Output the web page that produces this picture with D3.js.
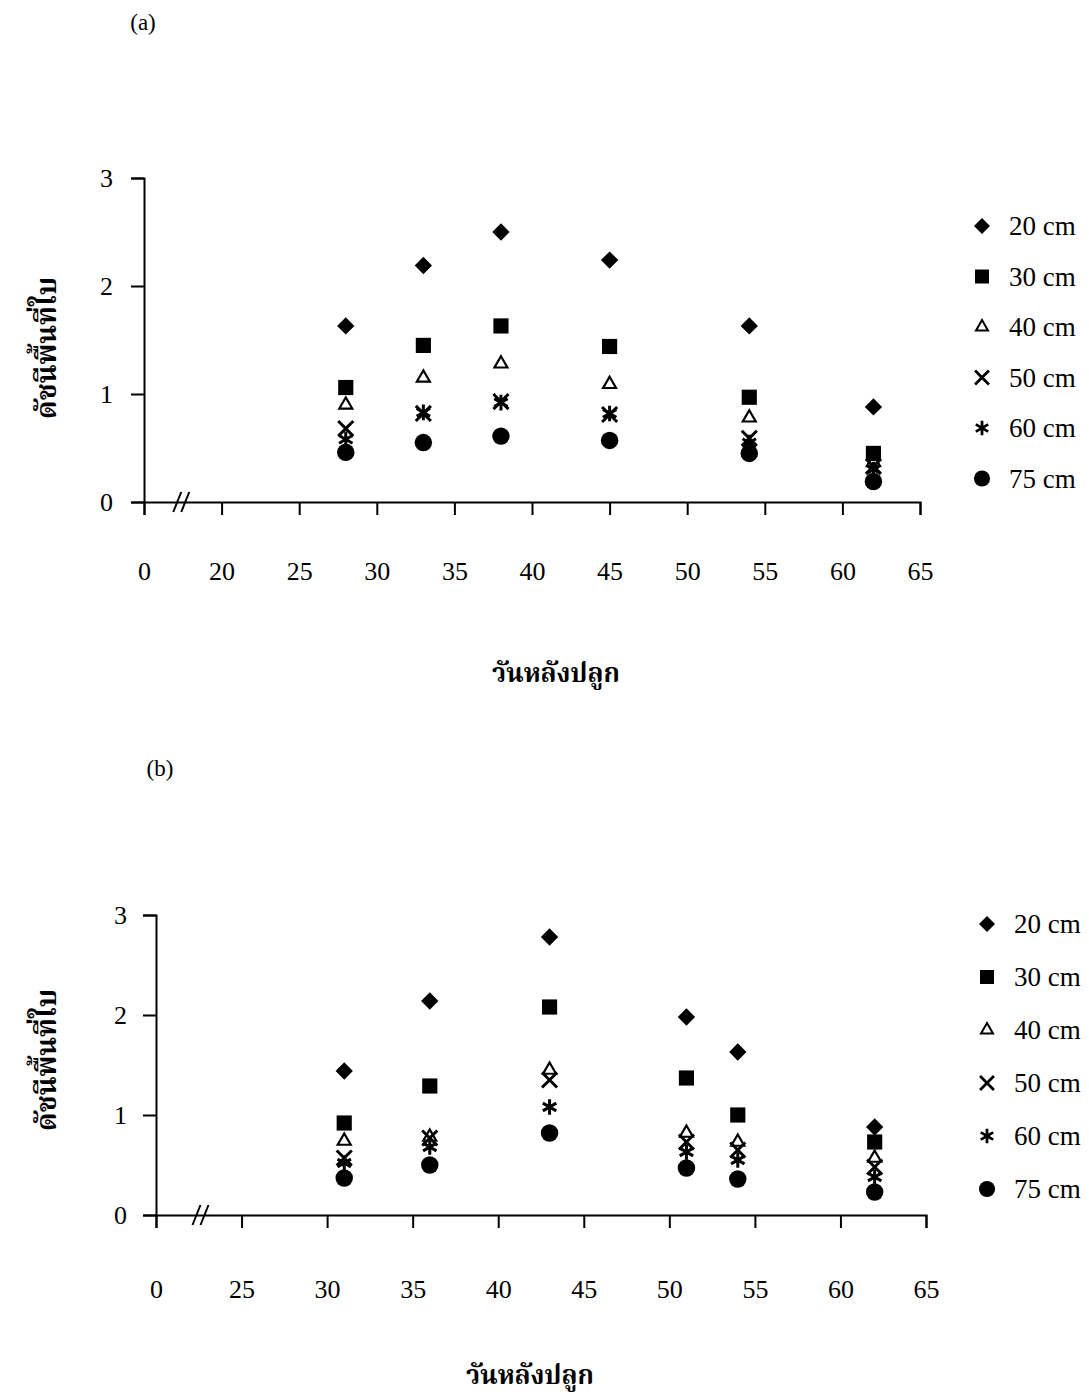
<!DOCTYPE html>
<html lang="th">
<head>
<meta charset="UTF-8">
<title>ดัชนีพื้นที่ใบ</title>
<script src="https://d3js.org/d3.v7.min.js"></script>
<style>
  body { margin: 0; background: #fff; }
  svg text { font-family: "Liberation Serif", "Times New Roman", serif; fill: #000; }
  .thai { font-family: "Noto Serif Thai", "Noto Sans Thai", "Loma", "Garuda", "Norasi", "Liberation Serif", serif; font-weight: bold; }
</style>
</head>
<body>
<script>
// ---- data ----
var seriesNames = ["20 cm", "30 cm", "40 cm", "50 cm", "60 cm", "75 cm"];
var yTicks = [0, 1, 2, 3];

// panel (a)
var daysA = [28, 33, 38, 45, 54, 62];
var a20 = [1.63, 2.19, 2.50, 2.24, 1.63, 0.88];
var a30 = [1.06, 1.45, 1.63, 1.44, 0.97, 0.45];
var a40 = [0.90, 1.15, 1.28, 1.09, 0.78, 0.37];
var a50 = [0.68, 0.82, 0.93, 0.81, 0.59, 0.33];
var a60 = [0.58, 0.83, 0.92, 0.82, 0.55, 0.30];
var a75 = [0.46, 0.55, 0.61, 0.57, 0.45, 0.19];
var xTicksA = [15, 20, 25, 30, 35, 40, 45, 50, 55, 60, 65];
var xLabelsA = ["0", "20", "25", "30", "35", "40", "45", "50", "55", "60", "65"];

// panel (b)
var daysB = [31, 36, 43, 51, 54, 62];
var b20 = [1.44, 2.14, 2.78, 1.98, 1.63, 0.88];
var b30 = [0.92, 1.29, 2.08, 1.37, 1.00, 0.73];
var b40 = [0.74, 0.78, 1.45, 0.82, 0.73, 0.57];
var b50 = [0.57, 0.77, 1.35, 0.73, 0.65, 0.48];
var b60 = [0.52, 0.68, 1.08, 0.63, 0.55, 0.38];
var b75 = [0.37, 0.50, 0.82, 0.47, 0.36, 0.23];
var xTicksB = [20, 25, 30, 35, 40, 45, 50, 55, 60, 65];
var xLabelsB = ["0", "25", "30", "35", "40", "45", "50", "55", "60", "65"];

var yTitle = "ดัชนีพื้นที่ใบ";
var xTitle = "วันหลังปลูก";

var W = 1089, H = 1400;
var svg = d3.select("body").append("svg").attr("width", W).attr("height", H);

// marker shapes: diamond, square, open triangle, x, asterisk, circle
var shapes = [
  { type: d3.symbolSquare, size: 150, rot: 45, fill: "#000" },
  { type: d3.symbolSquare, size: 230, rot: 0, fill: "#000" },
  { type: d3.symbolTriangle2, size: 120, rot: 0, fill: "none", stroke: 2.2 },
  { type: d3.symbolX, size: 150, rot: 0, fill: "none", stroke: 3 },
  { type: d3.symbolAsterisk, size: 170, rot: 0, fill: "none", stroke: 3 },
  { type: d3.symbolCircle, size: 240, rot: 0, fill: "#000" }
];

function marker(g, i, scale) {
  var s = shapes[i];
  var p = g.append("path")
    .attr("d", d3.symbol().type(s.type).size(s.size * scale)())
    .attr("fill", s.fill);
  if (s.stroke) p.attr("stroke", "#000").attr("stroke-width", s.stroke * Math.sqrt(scale));
  return p;
}

var panels = [
  { label: "(a)", labelX: 143, labelY: 30, days: daysA, series: [a20, a30, a40, a50, a60, a75],
    xDom: [15, 65], xRange: [144, 920], yRange: [502, 178], xTicks: xTicksA, xLabels: xLabelsA,
    breakAt: 17.4, xPad: 47, yPad: 18, xTitleX: 556, xTitleY: 682, yTitleX: 46, yTitleY: 348,
    legX: 982, legY: 226, legStep: 50.5 },
  { label: "(b)", labelX: 160, labelY: 776, days: daysB, series: [b20, b30, b40, b50, b60, b75],
    xDom: [20, 65], xRange: [156, 926], yRange: [1215, 915], xTicks: xTicksB, xLabels: xLabelsB,
    breakAt: 22.6, xPad: 52, yPad: 16, xTitleX: 530, xTitleY: 1384, yTitleX: 46, yTitleY: 1060,
    legX: 987, legY: 924, legStep: 53 }
];

panels.forEach(function (p) {
  var x = d3.scaleLinear().domain(p.xDom).range(p.xRange);
  var y = d3.scaleLinear().domain([0, 3]).range(p.yRange);
  var y0 = y(0), x0 = p.xRange[0];

  svg.append("text").attr("x", p.labelX).attr("y", p.labelY)
    .attr("text-anchor", "middle").style("font-size", "23px").text(p.label);

  var gx = svg.append("g").attr("transform", "translate(0," + y0 + ")")
    .call(d3.axisBottom(x).tickValues(p.xTicks).tickSize(13).tickPadding(p.xPad)
      .tickFormat(function (d, i) { return p.xLabels[i]; }));
  var gy = svg.append("g").attr("transform", "translate(" + x0 + ",0)")
    .call(d3.axisLeft(y).tickValues(yTicks).tickSize(13).tickPadding(p.yPad).tickFormat(d3.format("d")));

  [gx, gy].forEach(function (g) {
    g.selectAll("path, line").attr("stroke", "#000").attr("stroke-width", 2);
    g.selectAll("text").style("font-size", "26px").attr("fill", "#000")
      .style("font-family", "'Liberation Serif', serif");
  });

  // axis break mark //
  var bx = x(p.breakAt);
  [-4, 4].forEach(function (o) {
    svg.append("line")
      .attr("x1", bx + o - 4).attr("y1", y0 + 10)
      .attr("x2", bx + o + 4).attr("y2", y0 - 10)
      .attr("stroke", "#000").attr("stroke-width", 2);
  });

  // axis titles
  svg.append("text").attr("class", "thai")
    .attr("x", p.xTitleX).attr("y", p.xTitleY)
    .attr("text-anchor", "middle").style("font-size", "26px").text(xTitle);
  svg.append("text").attr("class", "thai")
    .attr("transform", "translate(" + p.yTitleX + "," + p.yTitleY + ") rotate(-90)")
    .attr("text-anchor", "middle").attr("dy", "0.35em").style("font-size", "28px").text(yTitle);

  // points
  p.series.forEach(function (vals, si) {
    var g = svg.append("g");
    g.selectAll("g").data(vals).enter().append("g")
      .attr("transform", function (d, i) {
        return "translate(" + x(p.days[i]) + "," + y(d) + ") rotate(" + shapes[si].rot + ")";
      })
      .each(function () { marker(d3.select(this), si, 1); });
  });

  // legend
  seriesNames.forEach(function (name, si) {
    var ly = p.legY + si * p.legStep;
    var g = svg.append("g").attr("transform", "translate(" + p.legX + "," + ly + ") rotate(" + shapes[si].rot + ")");
    marker(g, si, 0.85);
    svg.append("text").attr("x", p.legX + 27).attr("y", ly).attr("dy", "0.35em")
      .style("font-size", "27px").text(name);
  });
});
</script>
</body>
</html>
